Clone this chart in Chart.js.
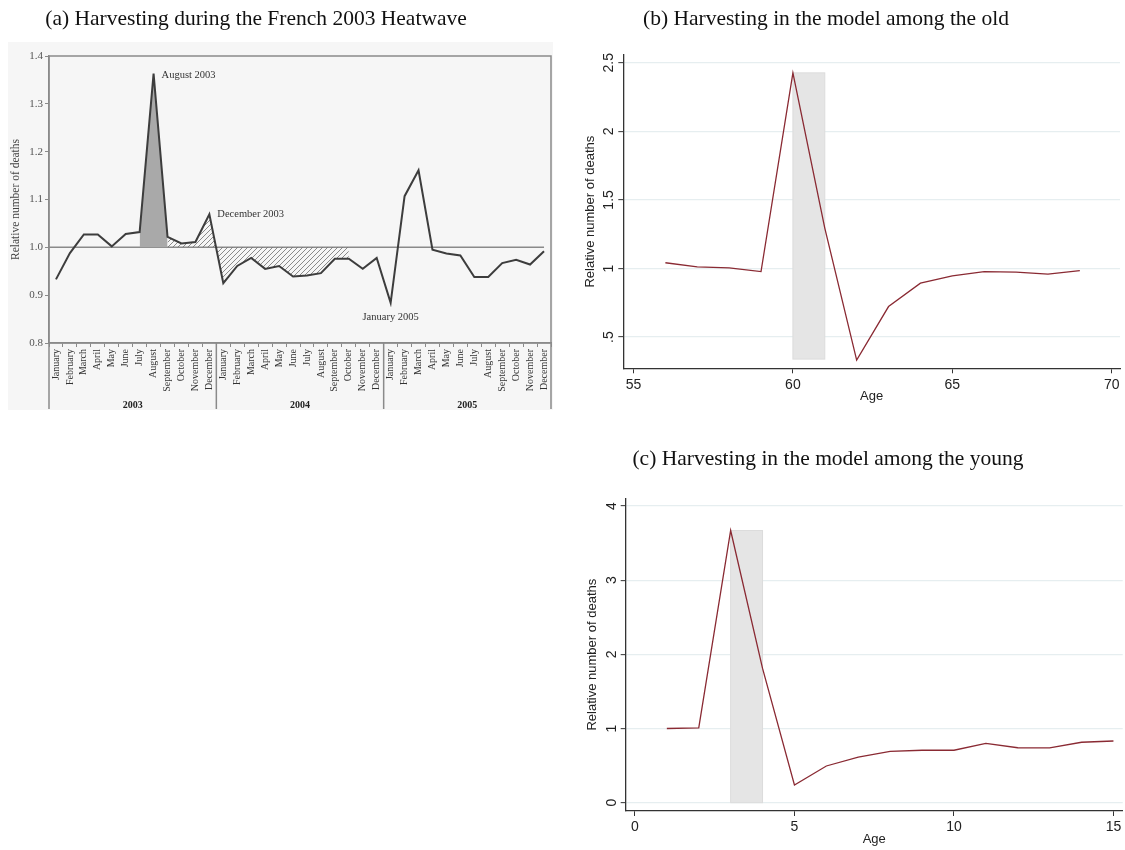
<!DOCTYPE html>
<html>
<head>
<meta charset="utf-8">
<script src="https://cdn.jsdelivr.net/npm/chart.js@4.4.1/dist/chart.umd.min.js"></script>
<style>
  body { margin: 0; background: #fff; }
  #page { position: relative; width: 1125px; height: 850px; overflow: hidden; background: #fff; }
  canvas { position: absolute; }
  .ttl {
    position: absolute; white-space: nowrap; transform: translateX(-50%);
    font-family: "Liberation Serif", serif; font-size: 21.5px; line-height: 24px; color: #111;
  }
</style>
</head>
<body>
<div id="page">
  <canvas id="chartA" width="560" height="420" style="left:0;top:0"></canvas>
  <canvas id="chartB" width="565" height="420" style="left:560px;top:0"></canvas>
  <canvas id="chartC" width="565" height="410" style="left:560px;top:440px"></canvas>
  <div class="ttl" style="left:256px;top:6px">(a) Harvesting during the French 2003 Heatwave</div>
  <div class="ttl" style="left:826px;top:6px">(b) Harvesting in the model among the old</div>
  <div class="ttl" style="left:828px;top:446px">(c) Harvesting in the model among the young</div>
</div>

<script>
// --- Data: panel (a), France 2003-2005 ---
const monthNames = ["January", "February", "March", "April", "May", "June", "July",
                    "August", "September", "October", "November", "December"];
const years = ["2003", "2004", "2005"];
const monthLabels = years.flatMap(() => monthNames);
const relFrance = [
  0.933, 0.988, 1.027, 1.027, 1.002, 1.028, 1.032, 1.363, 1.022, 1.008, 1.011, 1.069,
  0.925, 0.961, 0.978, 0.955, 0.961, 0.939, 0.941, 0.946, 0.976, 0.976, 0.955, 0.978,
  0.884, 1.107, 1.161, 0.995, 0.987, 0.983, 0.938, 0.938, 0.967, 0.974, 0.964, 0.992
];
const heatSpan    = [6, 8];   // July - September 2003 (solid)
const harvestSpan = [8, 21];  // September 2003 - October 2004 (hatched)
const franceYTicks = [0.8, 0.9, 1.0, 1.1, 1.2, 1.3, 1.4];
const notes = [
  { text: "August 2003",   idx: 7 },
  { text: "December 2003", idx: 11 },
  { text: "January 2005",  idx: 24 }
];

// --- Data: panel (b), model, old ---
const ageOld = [56, 57, 58, 59, 60, 61, 62, 63, 64, 65, 66, 67, 68, 69];
const relOld = [1.042, 1.012, 1.005, 0.978, 2.426, 1.295, 0.333, 0.723, 0.893, 0.947, 0.978, 0.974, 0.959, 0.985];
const shadeOldX = [60, 61];
const shadeOldY = [0.34, 2.426];
const oldXTicks = [55, 60, 65, 70];
const oldYTicks = [0.5, 1, 1.5, 2, 2.5];
const oldXRange = [54.68, 70.26];
const oldYRange = [0.273, 2.556];

// --- Data: panel (c), model, young ---
const ageYoung = [1, 2, 3, 4, 5, 6, 7, 8, 9, 10, 11, 12, 13, 14, 15];
const relYoung = [1.0, 1.008, 3.67, 1.81, 0.238, 0.495, 0.614, 0.693, 0.707, 0.707, 0.80, 0.741, 0.738, 0.815, 0.832];
const shadeYoungX = [3, 4];
const shadeYoungY = [0, 3.67];
const youngXTicks = [0, 5, 10, 15];
const youngYTicks = [0, 1, 2, 3, 4];
const youngXRange = [-0.29, 15.29];
const youngYRange = [-0.112, 4.104];

const SERIF = "Liberation Serif";
const SANS  = "Liberation Sans";
const MAROON = "#8a2a33";

// --- Hatch pattern for the harvesting area ---
function makeHatch() {
  const c = document.createElement("canvas");
  c.width = 5; c.height = 5;
  const g = c.getContext("2d");
  g.strokeStyle = "#6e6e6e";
  g.lineWidth = 0.8;
  g.beginPath();
  g.moveTo(0, 5); g.lineTo(5, 0);
  g.moveTo(-1, 1); g.lineTo(1, -1);
  g.moveTo(4, 6); g.lineTo(6, 4);
  g.stroke();
  return g.createPattern(c, "repeat");
}

function spanData(span) {
  return relFrance.map((v, i) => (i >= span[0] && i <= span[1]) ? v : null);
}

// --- Panel (a) decorations: scan background, frame, 1.0 line, years, notes ---
const franceDecor = {
  id: "franceDecor",
  beforeDraw(chart) {
    const { ctx } = chart;
    ctx.save();
    ctx.fillStyle = "#f6f6f6";
    ctx.fillRect(8, 42, 545, 368);
    ctx.restore();
  },
  beforeDatasetsDraw(chart) {
    const { ctx, chartArea, scales: { x, y } } = chart;
    const yy = y.getPixelForValue(1);
    ctx.save();
    ctx.strokeStyle = "#8a8a8a";
    ctx.lineWidth = 1.5;
    ctx.beginPath();
    ctx.moveTo(chartArea.left, yy);
    ctx.lineTo(x.getPixelForValue(relFrance.length - 1), yy);
    ctx.stroke();
    ctx.restore();
  },
  afterDraw(chart) {
    const { ctx, chartArea, scales: { x, y } } = chart;
    const half = (x.getPixelForValue(1) - x.getPixelForValue(0)) / 2;
    ctx.save();
    ctx.strokeStyle = "#8a8a8a";
    ctx.lineWidth = 1.5;
    ctx.strokeRect(chartArea.left, chartArea.top, chartArea.right - chartArea.left, chartArea.bottom - chartArea.top);

    // year separators and labels
    ctx.beginPath();
    [0, 12, 24, 36].forEach(i => {
      const px = x.getPixelForValue(Math.min(i, 35)) + (i === 36 ? half : -half);
      ctx.moveTo(px, chartArea.bottom);
      ctx.lineTo(px, 409);
    });
    ctx.stroke();
    ctx.fillStyle = "#222";
    ctx.font = "bold 10px " + SERIF;
    ctx.textAlign = "center";
    ctx.textBaseline = "middle";
    years.forEach((yr, k) => {
      const px = (x.getPixelForValue(k * 12) + x.getPixelForValue(k * 12 + 11)) / 2;
      ctx.fillText(yr, px, 405);
    });

    // annotations
    ctx.font = "10.5px " + SERIF;
    ctx.fillStyle = "#333";
    notes.forEach((n, k) => {
      const px = x.getPixelForValue(n.idx);
      const py = y.getPixelForValue(relFrance[n.idx]);
      if (k === 2) {
        ctx.textAlign = "center";
        ctx.fillText(n.text, px, py + 14);
      } else {
        ctx.textAlign = "left";
        ctx.fillText(n.text, px + 8, py + (k === 0 ? 2 : 0));
      }
    });
    ctx.restore();
  }
};

new Chart(document.getElementById("chartA"), {
  type: "line",
  data: {
    labels: monthLabels,
    datasets: [
      { data: relFrance, borderColor: "#3d3d3d", borderWidth: 2, pointRadius: 0, tension: 0, fill: false },
      { data: spanData(heatSpan), borderColor: "rgba(0,0,0,0)", borderWidth: 0, pointRadius: 0,
        backgroundColor: "#a9a9a9", fill: { value: 1 } },
      { data: spanData(harvestSpan), borderColor: "rgba(0,0,0,0)", borderWidth: 0, pointRadius: 0,
        backgroundColor: makeHatch(), fill: { value: 1 } }
    ]
  },
  options: {
    responsive: false,
    animation: false,
    layout: { padding: { left: 0, top: 56, right: 9, bottom: 0 } },
    plugins: { legend: { display: false }, tooltip: { enabled: false } },
    scales: {
      x: {
        type: "category",
        offset: true,
        grid: { display: true, drawOnChartArea: false, offset: true, tickLength: 4, color: "#8a8a8a" },
        border: { display: true, color: "#8a8a8a", width: 1.5 },
        ticks: { autoSkip: false, minRotation: 90, maxRotation: 90, padding: 2, color: "#333",
                 font: { family: SERIF, size: 10 } },
        afterFit(s) { s.height = 77; }
      },
      y: {
        type: "linear",
        min: 0.8, max: 1.4,
        afterBuildTicks(s) { s.ticks = franceYTicks.map(v => ({ value: v })); },
        grid: { display: true, drawOnChartArea: false, tickLength: 4, color: "#8a8a8a" },
        border: { display: true, color: "#8a8a8a", width: 1.5 },
        ticks: { padding: 2, color: "#555", font: { family: SERIF, size: 11 }, callback: v => v.toFixed(1) },
        title: { display: true, text: "Relative number of deaths", color: "#444",
                 padding: { top: 9, bottom: 0 }, font: { family: SERIF, size: 11.5 } },
        afterFit(s) { s.width = 49; }
      }
    }
  },
  plugins: [franceDecor]
});

// --- Panels (b) and (c): Stata-style model charts ---
function stataLabel(v) {
  return String(v).replace(/^0\./, ".");
}

function modelChart(id, ages, rel, shadeX, shadeY, xTicks, yTicks, xRange, yRange, geom) {
  const decor = {
    id: "modelDecor",
    beforeDatasetsDraw(chart) {
      const { ctx, scales: { x, y } } = chart;
      const x0 = x.getPixelForValue(shadeX[0]), x1 = x.getPixelForValue(shadeX[1]);
      const y0 = y.getPixelForValue(shadeY[1]), y1 = y.getPixelForValue(shadeY[0]);
      ctx.save();
      ctx.fillStyle = "#e5e5e5";
      ctx.fillRect(x0, y0, x1 - x0, y1 - y0);
      ctx.strokeStyle = "#dcdcdc";
      ctx.lineWidth = 1;
      ctx.strokeRect(x0, y0, x1 - x0, y1 - y0);
      ctx.restore();
    },
    afterDraw(chart) {
      const { ctx, chartArea, scales: { y } } = chart;
      ctx.save();
      ctx.fillStyle = "#222";
      ctx.font = "14px " + SANS;
      ctx.textAlign = "center";
      ctx.textBaseline = "middle";
      yTicks.forEach(v => {
        ctx.save();
        ctx.translate(chartArea.left - 14, y.getPixelForValue(v));
        ctx.rotate(-Math.PI / 2);
        ctx.fillText(stataLabel(v), 0, 0);
        ctx.restore();
      });
      ctx.restore();
    }
  };

  return new Chart(document.getElementById(id), {
    type: "line",
    data: {
      datasets: [{
        data: ages.map((a, i) => ({ x: a, y: rel[i] })),
        borderColor: MAROON, borderWidth: 1.3, pointRadius: 0, tension: 0, fill: false
      }]
    },
    options: {
      responsive: false,
      animation: false,
      layout: { padding: geom.padding },
      plugins: { legend: { display: false }, tooltip: { enabled: false } },
      scales: {
        x: {
          type: "linear",
          min: xRange[0], max: xRange[1],
          afterBuildTicks(s) { s.ticks = xTicks.map(v => ({ value: v })); },
          grid: { display: true, drawOnChartArea: false, tickLength: 5, color: "#333", tickColor: "#333" },
          border: { display: true, color: "#333", width: 1.3 },
          ticks: { padding: 3, color: "#222", font: { family: SANS, size: 14 } },
          title: { display: true, text: "Age", color: "#222", padding: 0, font: { family: SANS, size: 13 } },
          afterFit(s) { s.height = geom.xHeight; }
        },
        y: {
          type: "linear",
          min: yRange[0], max: yRange[1],
          afterBuildTicks(s) { s.ticks = yTicks.map(v => ({ value: v })); },
          grid: { display: true, drawOnChartArea: true, tickLength: 5, color: "#e6eef0", lineWidth: 1.3,
                  tickColor: "#333", tickWidth: 1 },
          border: { display: true, color: "#333", width: 1.3 },
          ticks: { display: false },
          title: { display: true, text: "Relative number of deaths", color: "#222",
                   padding: { top: geom.titlePad, bottom: 0 }, font: { family: SANS, size: 13 } },
          afterFit(s) { s.width = geom.yWidth; }
        }
      }
    },
    plugins: [decor]
  });
}

modelChart("chartB", ageOld, relOld, shadeOldX, shadeOldY, oldXTicks, oldYTicks, oldXRange, oldYRange,
  { padding: { left: 0, top: 55, right: 5, bottom: 15.7 }, xHeight: 36, yWidth: 63.3, titlePad: 23 });

modelChart("chartC", ageYoung, relYoung, shadeYoungX, shadeYoungY, youngXTicks, youngYTicks, youngXRange, youngYRange,
  { padding: { left: 0, top: 58.3, right: 2.3, bottom: 3 }, xHeight: 36, yWidth: 65.7, titlePad: 25 });
</script>
</body>
</html>
